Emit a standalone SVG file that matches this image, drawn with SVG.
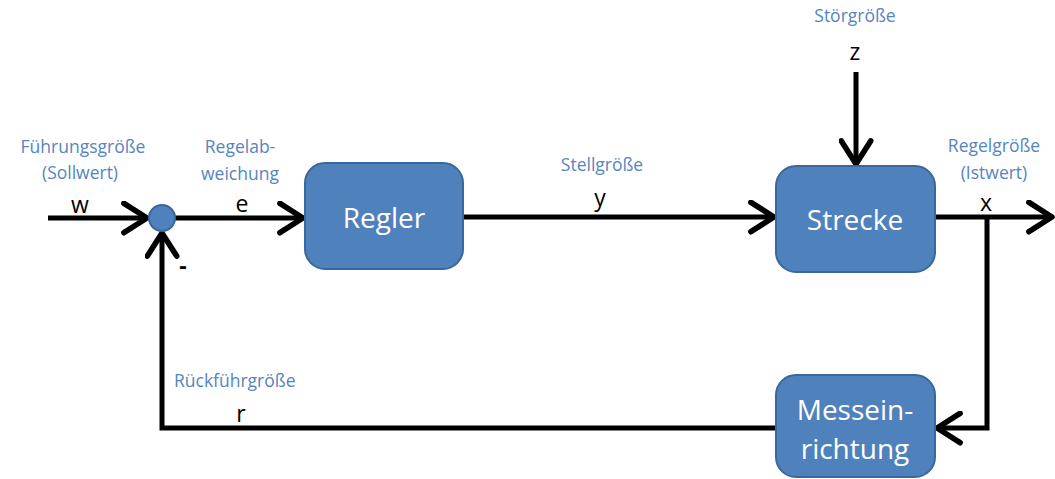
<svg xmlns="http://www.w3.org/2000/svg" width="1055" height="479" viewBox="0 0 1055 479">
<style>
.box{fill:#4F81BD;stroke:#3A679C;stroke-width:2}
.bt{font-family:"Open Sans","Liberation Sans",sans-serif;font-size:28px;fill:#fff;text-anchor:middle}
.lb{font-family:"Open Sans","Liberation Sans",sans-serif;font-size:17.5px;fill:#5585BF;text-anchor:middle}
.vr{font-family:"Open Sans","Liberation Sans",sans-serif;font-size:23px;fill:#000;text-anchor:middle}
.ln{fill:none;stroke:#000;stroke-width:5}
</style>
<defs>
<marker id="ah" viewBox="0 0 10 10" refX="8.2" refY="5" markerWidth="7" markerHeight="7" orient="auto" markerUnits="strokeWidth">
<path d="M1.6,0.8 L8.2,5 L1.6,9.2" fill="none" stroke="#000" stroke-width="1.6" stroke-linecap="round" stroke-linejoin="round"/>
</marker>
</defs>
<rect width="1055" height="479" fill="#fff"/>
<g id="connectors">
<line class="ln" x1="48" y1="218" x2="147" y2="218" marker-end="url(#ah)"/>
<line class="ln" x1="175" y1="218" x2="303" y2="218" marker-end="url(#ah)"/>
<line class="ln" x1="463" y1="217" x2="774" y2="217" marker-end="url(#ah)"/>
<line class="ln" x1="856" y1="72" x2="856" y2="164" marker-end="url(#ah)"/>
<line class="ln" x1="935" y1="217" x2="1052" y2="217" marker-end="url(#ah)"/>
<polyline class="ln" points="987,217 987,428 937,428" marker-end="url(#ah)"/>
<polyline class="ln" points="776,428 162,428 162,233" marker-end="url(#ah)"/>
</g>
<g id="sum"><circle cx="162" cy="218" r="13" class="box"/></g>
<g id="regler"><rect class="box" x="305" y="163" width="158" height="106" rx="20"/><text class="bt" x="384" y="228">Regler</text></g>
<g id="strecke"><rect class="box" x="776" y="166" width="159" height="106" rx="20"/><text class="bt" x="855" y="230">Strecke</text></g>
<g id="messeinrichtung"><rect class="box" x="776" y="375" width="159" height="102" rx="20"/><text class="bt" x="855" y="420">Messein-</text><text class="bt" x="855" y="459">richtung</text></g>
<g id="labels">
<text class="lb" x="83" y="153">Führungsgröße</text>
<text class="lb" x="80" y="179">(Sollwert)</text>
<text class="lb" x="240" y="153">Regelab-</text>
<text class="lb" x="240" y="180">weichung</text>
<text class="lb" x="602" y="171">Stellgröße</text>
<text class="lb" x="855" y="22">Störgröße</text>
<text class="lb" x="994" y="152">Regelgröße</text>
<text class="lb" x="994" y="179">(Istwert)</text>
<text class="lb" x="174" y="387" style="text-anchor:start">Rückführgröße</text>
<text class="vr" x="80" y="213">w</text>
<text class="vr" x="242" y="212">e</text>
<text class="vr" x="600" y="206">y</text>
<text class="vr" x="855" y="60">z</text>
<text class="vr" x="986" y="211">x</text>
<text class="vr" x="241" y="422">r</text>
<text class="vr" x="183" y="274" style="font-weight:bold">-</text>
</g>
</svg>
